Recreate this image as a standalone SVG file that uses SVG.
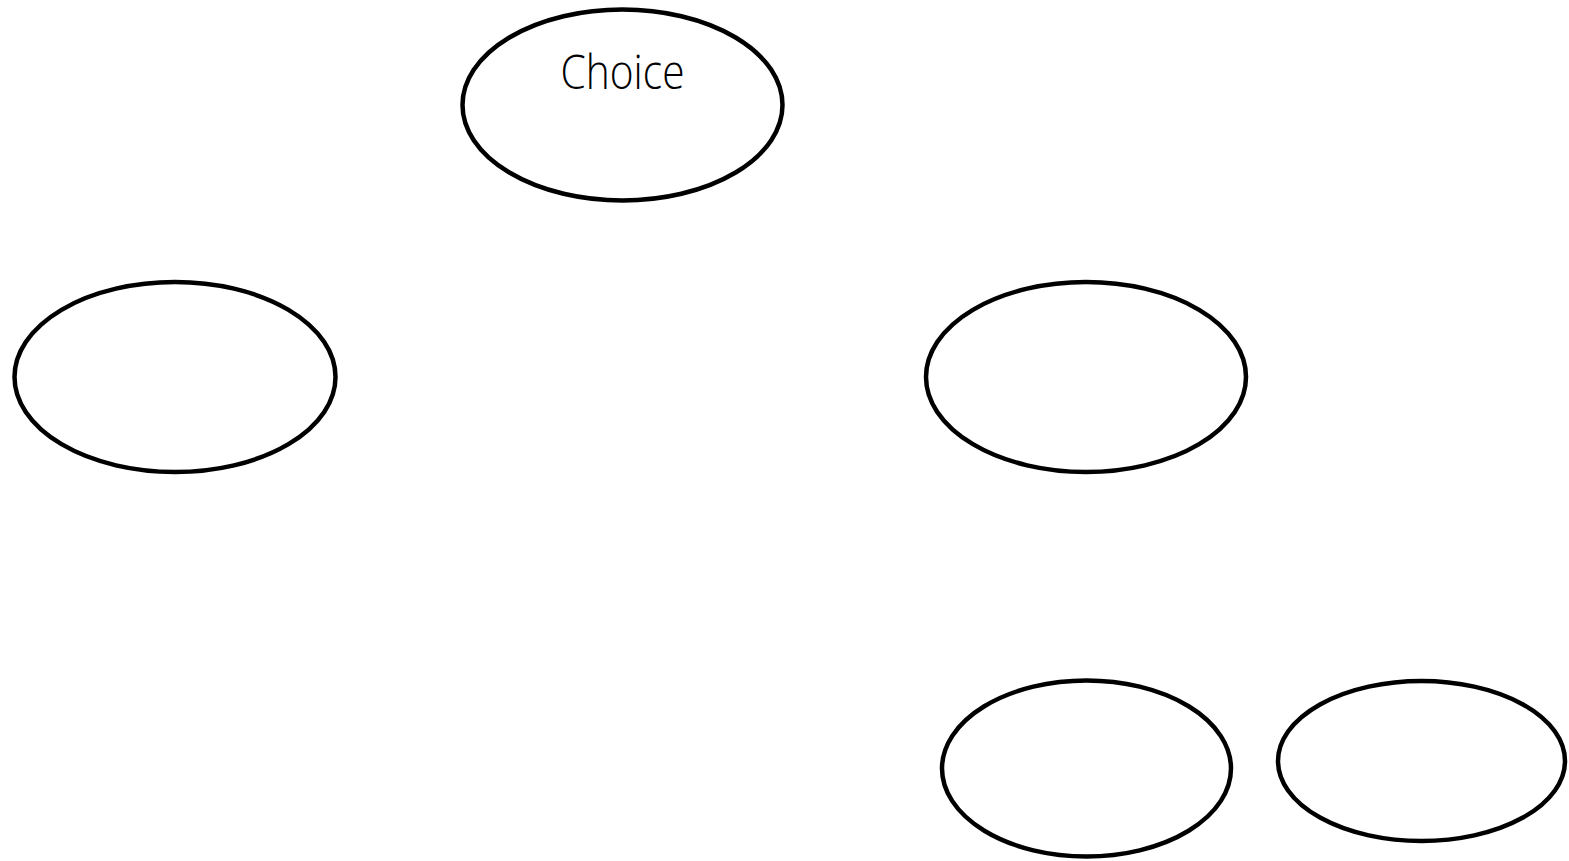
<svg xmlns="http://www.w3.org/2000/svg" width="1569" height="861" viewBox="0 0 1569 861">
<style>
.node ellipse{fill:#fff;stroke:#000;stroke-width:4.5}
.lbl{font-family:"Open Sans","Liberation Sans",sans-serif;font-weight:300;font-size:47px;fill:#000;text-anchor:middle}
</style>
<rect width="1569" height="861" fill="#fff"/>
<g id="connectors"></g>
<g id="choice" class="node"><ellipse cx="622.5" cy="105" rx="160" ry="95.5"/><text class="lbl" x="622.5" y="89" textLength="124" lengthAdjust="spacingAndGlyphs">Choice</text></g>
<g id="left" class="node"><ellipse cx="175" cy="377" rx="160.5" ry="95"/></g>
<g id="right" class="node"><ellipse cx="1086" cy="377" rx="160" ry="95"/></g>
<g id="bottom-mid" class="node"><ellipse cx="1086.5" cy="768.5" rx="144.5" ry="88"/></g>
<g id="bottom-right" class="node"><ellipse cx="1421.5" cy="761" rx="143.5" ry="80"/></g>
</svg>
